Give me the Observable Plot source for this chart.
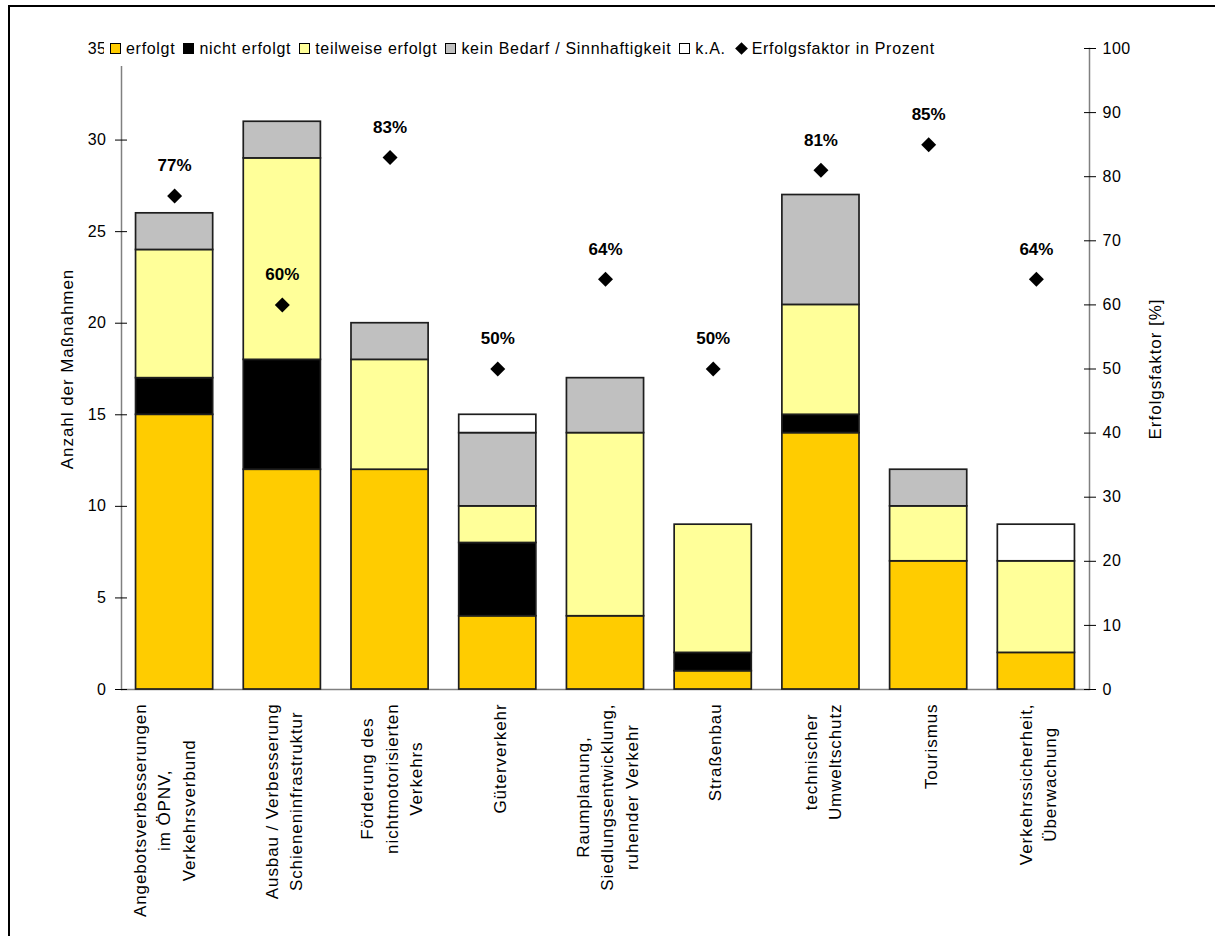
<!DOCTYPE html>
<html>
<head>
<meta charset="utf-8">
<script src="https://cdn.jsdelivr.net/npm/d3@7"></script>
<script src="https://cdn.jsdelivr.net/npm/@observablehq/plot@0.6"></script>
<style>
  html, body { margin: 0; padding: 0; background: #fff; overflow: hidden; }
  #wrap { position: relative; width: 1215px; height: 936px; overflow: hidden;
          font-family: "Liberation Sans", Arial, sans-serif; }
  #wrap svg { position: absolute; left: 0; top: 0; }
  #border { position: absolute; left: 8px; top: 5px; width: 1400px; height: 1200px;
            border: 2px solid #000; box-sizing: border-box; pointer-events: none; }
  #legend { position: absolute; left: 104px; top: 31px; height: 35px; width: 842px;
            background: #fff; display: flex; align-items: center; font-size: 16px;
            letter-spacing: 0.7px; color: #000; padding-left: 6px; box-sizing: border-box; }
  #legend .item { display: flex; align-items: center; margin-right: 8px; white-space: nowrap; }
  #legend .sw { width: 9px; height: 9px; border: 1px solid #000; margin-right: 5px; }
  #legend .dia { width: 9px; height: 9px; background: #000; transform: rotate(45deg); margin: 0 6px 0 3px; }
</style>
</head>
<body>
<div id="wrap"></div>
<script>
// Handlungsfelder (line breaks as in the axis labels)
const categories = [
  "Angebotsverbesserungen\nim ÖPNV,\nVerkehrsverbund\n",
  "Ausbau / Verbesserung\nSchieneninfrastruktur",
  "Förderung des\nnichtmotorisierten\nVerkehrs",
  "Güterverkehr",
  "Raumplanung,\nSiedlungsentwicklung,\nruhender Verkehr",
  "Straßenbau",
  "technischer\nUmweltschutz",
  "Tourismus",
  "Verkehrssicherheit,\nÜberwachung"
];

// Anzahl der Maßnahmen je Umsetzungsstatus
const erfolgt         = [15, 12, 12, 4, 4, 1, 14, 7, 2];
const nichtErfolgt    = [ 2,  6,  0, 4, 0, 1,  1, 0, 0];
const teilweise       = [ 7, 11,  6, 2, 10, 7, 6, 3, 5];
const keinBedarf      = [ 2,  2,  2, 4, 3, 0,  6, 2, 0];
const keineAngabe     = [ 0,  0,  0, 1, 0, 0,  0, 0, 2];

// Erfolgsfaktor in Prozent
const erfolgsfaktor   = [77, 60, 83, 50, 64, 50, 81, 85, 64];

const statuses = ["erfolgt", "nicht erfolgt", "teilweise erfolgt", "kein Bedarf / Sinnhaftigkeit", "k.A."];
const statusColors = ["#FFCC00", "#000000", "#FFFF99", "#C0C0C0", "#FFFFFF"];
const series = [erfolgt, nichtErfolgt, teilweise, keinBedarf, keineAngabe];

const countTicks = [0, 5, 10, 15, 20, 25, 30, 35];
const percentTicks = [0, 10, 20, 30, 40, 50, 60, 70, 80, 90, 100];
const yMax = 35;
const pctToCount = p => p * yMax / 100;

const stacked = [];
categories.forEach((cat, i) => {
  statuses.forEach((status, s) => {
    const value = series[s][i];
    if (value > 0) stacked.push({cat, status, value});
  });
});
const factors = categories.map((cat, i) => ({cat, pct: erfolgsfaktor[i]}));

const font = '"Liberation Sans", Arial, sans-serif';
const labelSize = 17;
const labelLine = 24.5 / labelSize;

const chart = Plot.plot({
  width: 1215,
  height: 936,
  marginTop: 48,
  marginBottom: 247,
  marginLeft: 121,
  marginRight: 126,
  style: {fontFamily: font, fontSize: "16px", color: "#000", background: "transparent"},
  x: {domain: categories, paddingInner: 0.284, paddingOuter: 0.135, round: false, axis: null},
  y: {domain: [0, yMax], axis: null},
  color: {domain: statuses, range: statusColors},
  marks: [
    Plot.ruleY([0], {stroke: "#808080", strokeWidth: 1.5}),
    Plot.frame({anchor: "left", stroke: "#808080", strokeWidth: 1.5}),
    Plot.frame({anchor: "right", stroke: "#808080", strokeWidth: 1.5}),
    Plot.barY(stacked, {
      x: "cat", y: "value", fill: "status", order: statuses,
      stroke: "#1e1e1e", strokeWidth: 1.7
    }),
    // left count axis: outer ticks with labels, then the inner halves
    Plot.axisY({anchor: "left", ticks: countTicks, tickSize: 6, tickPadding: 9,
                label: null, fontSize: 16, stroke: "#000"}),
    Plot.axisY({anchor: "left", ticks: countTicks, tickSize: 6, dx: 6,
                label: null, fill: "none", stroke: "#000"}),
    // right percent axis
    Plot.axisY({anchor: "right", ticks: percentTicks.map(pctToCount), tickSize: 6, tickPadding: 7,
                tickFormat: v => Math.round(v * 100 / yMax), label: null, fontSize: 16, stroke: "#000"}),
    Plot.axisY({anchor: "right", ticks: percentTicks.map(pctToCount), tickSize: 6, dx: -6,
                label: null, fill: "none", stroke: "#000"}),
    Plot.axisX({anchor: "bottom", tickSize: 0, tickPadding: 14, tickRotate: -90,
                lineHeight: labelLine, fontSize: labelSize, label: null}),
    Plot.dot(factors, {x: "cat", y: d => pctToCount(d.pct), symbol: "diamond2", r: 6.75, fill: "#000"}),
    Plot.text(factors, {x: "cat", y: d => pctToCount(d.pct), text: d => `${d.pct}%`,
                        dy: -30, fontWeight: "bold", fontSize: 17}),
    Plot.text(["Anzahl der Maßnahmen"], {frameAnchor: "left", textAnchor: "middle", rotate: -90,
                                         dx: -54, fontSize: 17}),
    Plot.text(["Erfolgsfaktor [%]"], {frameAnchor: "right", textAnchor: "middle", rotate: -90,
                                      dx: 66, fontSize: 17})
  ]
});

const wrap = document.getElementById("wrap");
wrap.appendChild(chart);

// spacing of the tick numbers and axis titles
chart.querySelectorAll('g[aria-label^="y-axis tick label"] text').forEach(t => {
  t.style.letterSpacing = "0.5px";
});
chart.querySelectorAll('g[aria-label="text"] text').forEach(t => {
  if (t.getAttribute("transform") && t.getAttribute("transform").includes("rotate")) {
    t.style.letterSpacing = "0.95px";
  }
});

// center the lines of each rotated category label, longest line starting at the axis
chart.querySelectorAll('g[aria-label="x-axis tick label"] text').forEach(t => {
  t.style.fontSize = `${labelSize}px`;
  t.style.letterSpacing = "0.9px";
  const spans = [...t.querySelectorAll("tspan")];
  const parts = spans.length ? spans : [t];
  const w = Math.max(...parts.map(p => p.getComputedTextLength()));
  t.setAttribute("text-anchor", "middle");
  parts.forEach(p => p.setAttribute("x", -w / 2));
});

const border = document.createElement("div");
border.id = "border";
wrap.appendChild(border);

// legend
const legend = document.createElement("div");
legend.id = "legend";
statuses.forEach((s, i) => {
  const item = document.createElement("div");
  item.className = "item";
  const sw = document.createElement("div");
  sw.className = "sw";
  sw.style.background = statusColors[i];
  const label = document.createElement("span");
  label.textContent = s;
  item.append(sw, label);
  legend.appendChild(item);
});
const fItem = document.createElement("div");
fItem.className = "item";
const dia = document.createElement("div");
dia.className = "dia";
const fLabel = document.createElement("span");
fLabel.textContent = "Erfolgsfaktor in Prozent";
fItem.append(dia, fLabel);
legend.appendChild(fItem);
wrap.appendChild(legend);
</script>
</body>
</html>
